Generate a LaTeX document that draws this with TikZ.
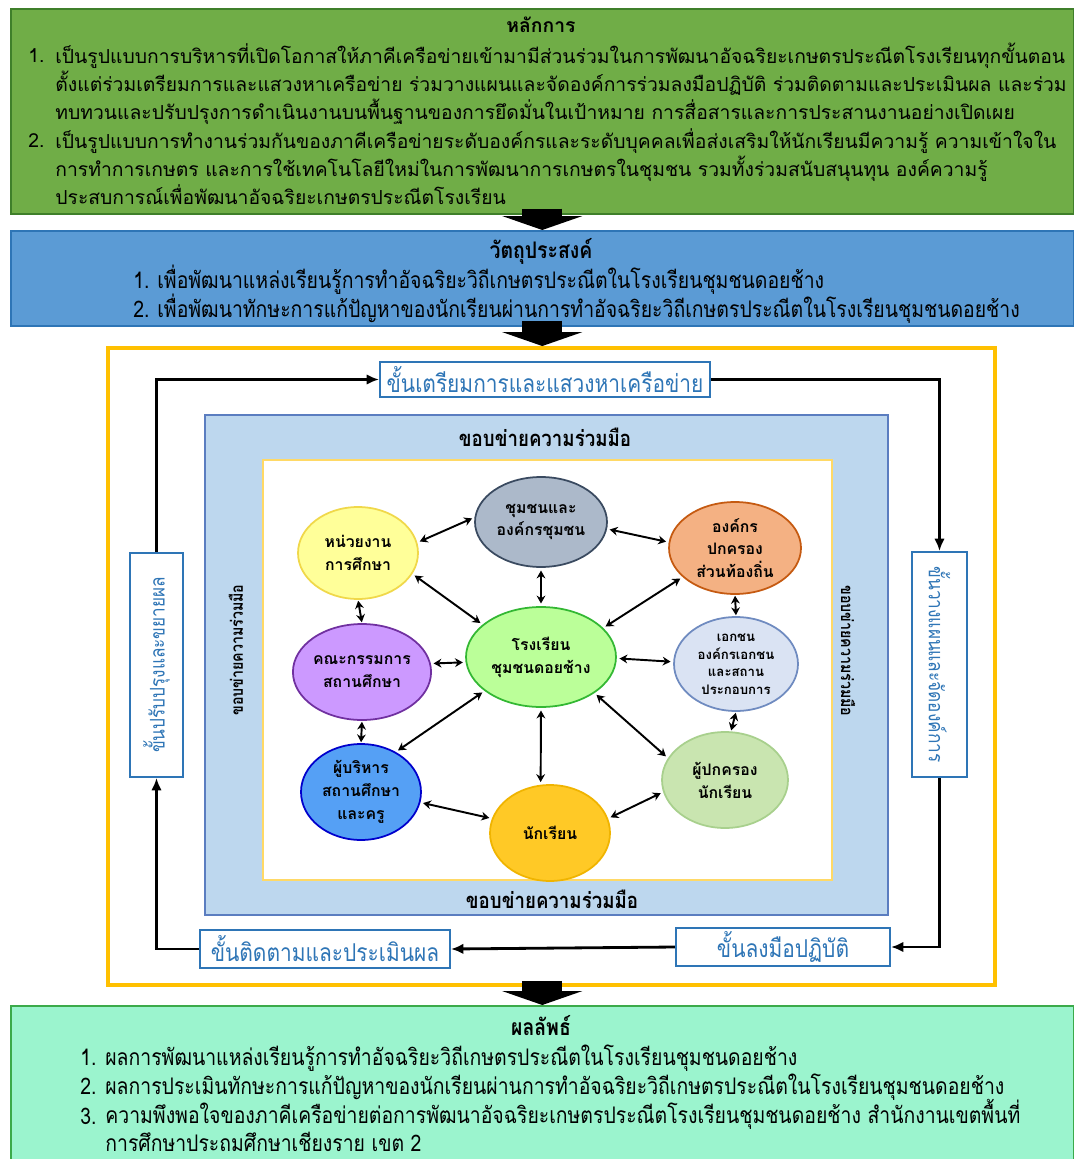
\documentclass[tikz,border=0pt]{standalone}
\usepackage{fontspec}
\newfontfamily\thaifont[Script=Thai]{Loma}
\newfontfamily\thaicond[Script=Thai,FakeStretch=0.85]{Loma}
\usepackage{tikz}
\usetikzlibrary{positioning, arrows.meta, calc, shapes.geometric}

\definecolor{principlegreen}{HTML}{70AD47}
\definecolor{principleedge}{HTML}{3F7F2A}
\definecolor{objectiveblue}{HTML}{5B9BD5}
\definecolor{objectiveedge}{HTML}{2E75B6}
\definecolor{outcomemint}{HTML}{9BF4CE}
\definecolor{outcomeedge}{HTML}{3BAA4A}
\definecolor{framegold}{HTML}{FFC000}
\definecolor{bandblue}{HTML}{BDD7EE}
\definecolor{bandedge}{HTML}{5B7DC0}
\definecolor{inneredge}{HTML}{FFD966}
\definecolor{stepblue}{HTML}{2E75B6}

\begin{document}
\begin{tikzpicture}[x=0.02cm, y=-0.02cm]
	% Define styles
	\tikzset{
		panel/.style={rectangle, draw, line width=1pt, anchor=north west, minimum width=21.26cm, inner sep=0pt},
		paneltitle/.style={anchor=base, inner sep=0pt, font=\thaifont\bfseries\fontsize{11}{16}\selectfont},
		condtitle/.style={anchor=base, inner sep=0pt, font=\thaicond\bfseries\fontsize{13}{16.5}\selectfont},
		num/.style={anchor=base west, inner sep=0pt},
		itemtext/.style={anchor=base west, align=left, inner sep=0pt},
		toptext/.style={font=\thaifont\fontsize{11}{15.9}\selectfont},
		condtext/.style={font=\thaicond\fontsize{13}{15.7}\selectfont},
		stepbox/.style={rectangle, draw=stepblue, fill=white, line width=1.2pt, inner sep=0pt, text=stepblue, font=\thaicond\fontsize{14}{16}\selectfont},
		bandlabel/.style={inner sep=0pt, font=\thaicond\bfseries\fontsize{12.5}{14}\selectfont},
		party/.style={ellipse, draw, line width=1pt, minimum width=2.4cm, minimum height=1.92cm, inner sep=0pt, align=center, font=\thaifont\bfseries\fontsize{9}{13}\selectfont},
		link/.style={draw, line width=1.1pt, {Stealth[length=4.5pt, width=5pt]}-{Stealth[length=4.5pt, width=5pt]}, shorten <=1.5pt, shorten >=1.5pt},
		cycle/.style={draw, line width=1.6pt, -{Latex[length=7pt, width=6pt]}},
		bigarrow/.style={draw, line width=0.8cm, -{Triangle[width=1.6cm, length=0.28cm]}, shorten <=-0.12cm}
	}
	\useasboundingbox (0,0) rectangle (1073,1159);

	% Panels
	\node[panel, fill=principlegreen, draw=principleedge, minimum height=4.1cm] (principle) at (10,8) {};
	\node[panel, fill=objectiveblue, draw=objectiveedge, minimum height=1.9cm] (objective) at (10,230) {};
	\node[panel, fill=outcomemint, draw=outcomeedge, minimum height=3.3cm] (outcome) at (10,1005) {};
	\node[rectangle, draw=framegold, fill=white, line width=2.3pt, minimum width=17.74cm, minimum height=12.74cm] (frame) at (551.5,666.5) {};

	% Principle text
	\node[paneltitle] (ptitle) at (541,33) {หลักการ};
	\node[num, toptext] (p1num) at (28,63) {1.};
	\node[itemtext, toptext] (p1) at (55,119) {เป็นรูปแบบการบริหารที่เปิดโอกาสให้ภาคีเครือข่ายเข้ามามีส่วนร่วมในการพัฒนาอัจฉริยะเกษตรประณีตโรงเรียนทุกขั้นตอน\\ตั้งแต่ร่วมเตรียมการและแสวงหาเครือข่าย ร่วมวางแผนและจัดองค์การร่วมลงมือปฏิบัติ ร่วมติดตามและประเมินผล และร่วม\\ทบทวนและปรับปรุงการดำเนินงานบนพื้นฐานของการยึดมั่นในเป้าหมาย การสื่อสารและการประสานงานอย่างเปิดเผย};
	\node[num, toptext] (p2num) at (28,147) {2.};
	\node[itemtext, toptext] (p2) at (55,204) {เป็นรูปแบบการทำงานร่วมกันของภาคีเครือข่ายระดับองค์กรและระดับบุคคลเพื่อส่งเสริมให้นักเรียนมีความรู้ ความเข้าใจใน\\การทำการเกษตร และการใช้เทคโนโลยีใหม่ในการพัฒนาการเกษตรในชุมชน รวมทั้งร่วมสนับสนุนทุน องค์ความรู้\\ประสบการณ์เพื่อพัฒนาอัจฉริยะเกษตรประณีตโรงเรียน};

	% Objective text
	\node[condtitle] (otitle) at (541,258) {วัตถุประสงค์};
	\node[num, condtext] (o1num) at (133,288) {1.};
	\node[itemtext, condtext] (o1) at (157,288) {เพื่อพัฒนาแหล่งเรียนรู้การทำอัจฉริยะวิถีเกษตรประณีตในโรงเรียนชุมชนดอยช้าง};
	\node[num, condtext] (o2num) at (133,317) {2.};
	\node[itemtext, condtext] (o2) at (157,317) {เพื่อพัฒนาทักษะการแก้ปัญหาของนักเรียนผ่านการทำอัจฉริยะวิถีเกษตรประณีตในโรงเรียนชุมชนดอยช้าง};

	% Outcome text
	\node[condtitle] (rtitle) at (541,1035) {ผลลัพธ์};
	\node[num, condtext] (r1num) at (80,1065) {1.};
	\node[itemtext, condtext] (r1) at (105,1065) {ผลการพัฒนาแหล่งเรียนรู้การทำอัจฉริยะวิถีเกษตรประณีตในโรงเรียนชุมชนดอยช้าง};
	\node[num, condtext] (r2num) at (80,1094) {2.};
	\node[itemtext, condtext] (r2) at (105,1094) {ผลการประเมินทักษะการแก้ปัญหาของนักเรียนผ่านการทำอัจฉริยะวิถีเกษตรประณีตในโรงเรียนชุมชนดอยช้าง};
	\node[num, condtext] (r3num) at (80,1124) {3.};
	\node[itemtext, condtext] (r3) at (105,1151) {ความพึงพอใจของภาคีเครือข่ายต่อการพัฒนาอัจฉริยะเกษตรประณีตโรงเรียนชุมชนดอยช้าง สำนักงานเขตพื้นที่\\การศึกษาประถมศึกษาเชียงราย เขต 2};

	% Collaboration band
	\node[rectangle, draw=bandedge, fill=bandblue, line width=1.2pt, minimum width=13.66cm, minimum height=10cm] (band) at (546.5,665) {};
	\node[rectangle, draw=inneredge, fill=white, line width=1.2pt, minimum width=11.38cm, minimum height=8.4cm] (inner) at (547.5,670) {};
	\node[bandlabel] (bandtop) at (545,437) {ขอบข่ายความร่วมมือ};
	\node[bandlabel] (bandbottom) at (552,899) {ขอบข่ายความร่วมมือ};
	\node[bandlabel, rotate=90, font=\thaicond\bfseries\fontsize{9.5}{12}\selectfont] (bandleft) at (236,650) {ขอบข่ายความร่วมมือ};
	\node[bandlabel, rotate=-90, font=\thaicond\bfseries\fontsize{9.5}{12}\selectfont] (bandright) at (848,651) {ขอบข่ายความร่วมมือ};

	% Steps
	\node[stepbox, minimum width=6.6cm, minimum height=0.7cm] (prepare) at (545,379.5) {ขั้นเตรียมการและแสวงหาเครือข่าย};
	\node[stepbox, minimum width=1.1cm, minimum height=4.5cm, font=\thaicond\fontsize{11.5}{14}\selectfont] (plan) at (939.5,664.5) {\rotatebox{-90}{ขั้นวางแผนและจัดองค์การ}};
	\node[stepbox, minimum width=4.28cm, minimum height=0.76cm] (act) at (783,947) {ขั้นลงมือปฏิบัติ};
	\node[stepbox, minimum width=5cm, minimum height=0.76cm] (follow) at (325,949) {ขั้นติดตามและประเมินผล};
	\node[stepbox, minimum width=1.06cm, minimum height=4.48cm, font=\thaicond\fontsize{11.5}{14}\selectfont] (improve) at (156.5,665) {\rotatebox{90}{ขั้นปรับปรุงและขยายผล}};

	% Network members
	\node[party, fill=lime!45!green!40!white, draw=green!65!black!80] (school) at (541,657) [minimum width=3cm, minimum height=2cm] {โรงเรียน\\ชุมชนดอยช้าง};
	\node[party, fill={rgb,255:red,172;green,185;blue,202}, draw={rgb,255:red,58;green,74;blue,96}] (comm) at (541,522) [minimum width=2.64cm, minimum height=1.8cm] {ชุมชนและ\\องค์กรชุมชน};
	\node[party, fill={rgb,255:red,255;green,255;blue,153}, draw={rgb,255:red,240;green,216;blue,74}] (edu) at (358,553) [minimum height=1.84cm] {หน่วยงาน\\การศึกษา};
	\node[party, fill={rgb,255:red,244;green,177;blue,131}, draw={rgb,255:red,197;green,90;blue,17}] (localgov) at (735,548) [minimum width=2.64cm, minimum height=1.84cm] {องค์กร\\ปกครอง\\ส่วนท้องถิ่น};
	\node[party, fill={rgb,255:red,204;green,153;blue,255}, draw={rgb,255:red,112;green,48;blue,160}] (committee) at (362,672) [minimum width=2.32cm] {คณะกรรมการ\\สถานศึกษา};
	\node[party, fill={rgb,255:red,218;green,227;blue,243}, draw={rgb,255:red,111;green,139;blue,192}, font=\thaifont\bfseries\fontsize{7.5}{10}\selectfont] (private) at (736,664) [minimum width=2.48cm, minimum height=1.88cm] {เอกชน\\องค์กรเอกชน\\และสถาน\\ประกอบการ};
	\node[party, fill={rgb,255:red,85;green,160;blue,245}, draw={rgb,255:red,0;green,0;blue,204}] (admin) at (361,792) {ผู้บริหาร\\สถานศึกษา\\และครู};
	\node[party, fill={rgb,255:red,255;green,201;blue,38}, draw={rgb,255:red,240;green,180;blue,0}] (student) at (550,833) {นักเรียน};
	\node[party, fill={rgb,255:red,201;green,229;blue,176}, draw={rgb,255:red,168;green,208;blue,141}] (parent) at (725,780) [minimum width=2.52cm] {ผู้ปกครอง\\นักเรียน};

	% Arrows
	\draw[bigarrow] (principle.south) -- (objective.north);
	\draw[bigarrow] (objective.south) -- (objective.south |- frame.north);
	\draw[bigarrow] (objective.south |- frame.south) -- (outcome.north);

	\draw[cycle] (improve.north) |- (prepare.west);
	\draw[cycle] (prepare.east) -| (plan.north);
	\draw[cycle] (plan.south) |- (act.east);
	\draw[cycle] (act.west) -- (follow.east);
	\draw[cycle] (follow.west) -| (improve.south);

	\draw[link] (edu.10) -- (comm.176);
	\draw[link] (comm.354) -- (localgov.175);
	\draw[link] (edu.339) -- (school.151);
	\draw[link] (comm.south) -- (school.north);
	\draw[link] (localgov.209) -- (school.25);
	\draw[link, shorten <=0.5pt, shorten >=0.5pt] (localgov.south) -- (private.north);
	\draw[link, shorten <=0.5pt, shorten >=0.5pt] (edu.south) -- (committee.north);
	\draw[link] (committee.7) -- (school.184);
	\draw[link] (school.359) -- (private.178);
	\draw[link, shorten <=0.5pt, shorten >=0.5pt] (committee.south) -- (admin.north);
	\draw[link] (school.211) -- (admin.49);
	\draw[link] (school.south) -- (student.101);
	\draw[link] (school.326) -- (parent.159);
	\draw[link, shorten <=0.5pt, shorten >=0.5pt] (private.south) -- (parent.83);
	\draw[link] (admin.350) -- (student.166);
	\draw[link] (student.14) -- (parent.191);

\end{tikzpicture}
\end{document}
